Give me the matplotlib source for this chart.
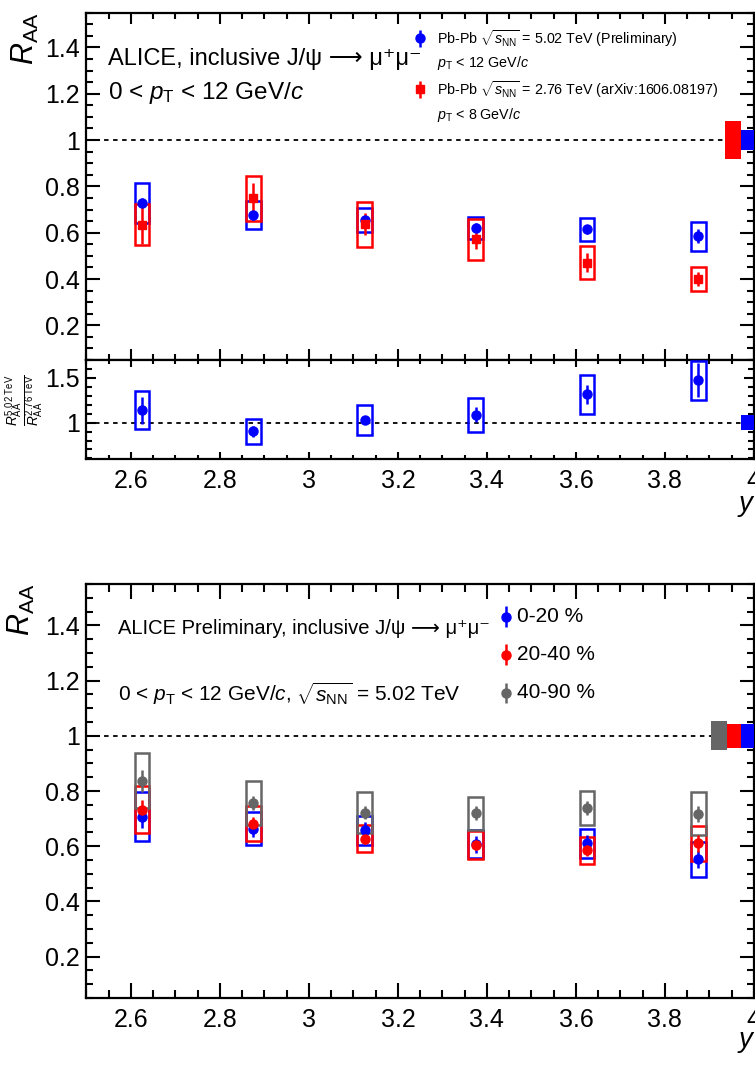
import matplotlib
matplotlib.use('Agg')
import matplotlib.pyplot as plt
from matplotlib.ticker import MultipleLocator, FuncFormatter

plt.rcParams['font.family'] = ['Liberation Sans', 'DejaVu Sans']
plt.rcParams['mathtext.fontset'] = 'custom'
plt.rcParams['mathtext.rm'] = 'Liberation Sans'
plt.rcParams['mathtext.it'] = 'Liberation Sans:italic'
plt.rcParams['mathtext.bf'] = 'Liberation Sans:bold'

BLUE = '#0000ff'
RED = '#ff0000'
GRAY = '#666666'

# rapidity bin centres
y_bins = [2.625, 2.875, 3.125, 3.375, 3.625, 3.875]

# top panel, 0-90 %
raa_502 = [0.728, 0.675, 0.655, 0.621, 0.615, 0.585]
stat_502 = [0.02, 0.02, 0.02, 0.02, 0.02, 0.03]
sys_502 = [0.085, 0.06, 0.053, 0.047, 0.05, 0.062]
raa_276 = [0.635, 0.748, 0.636, 0.571, 0.471, 0.400]
stat_276 = [0.085, 0.065, 0.047, 0.04, 0.04, 0.03]
sys_276 = [0.09, 0.099, 0.097, 0.09, 0.072, 0.053]
glob_502 = 0.043
glob_276 = 0.083

# ratio 5.02 / 2.76
ratio = [1.14, 0.904, 1.03, 1.089, 1.315, 1.474]
ratio_stat = [0.15, 0.06, 0.05, 0.085, 0.11, 0.19]
ratio_sys = [0.21, 0.14, 0.17, 0.19, 0.22, 0.22]
glob_ratio = 0.087

# bottom panel, centrality classes at 5.02 TeV
cent_labels = ['0-20 %', '20-40 %', '40-90 %']
raa_c = [
    [0.707, 0.664, 0.658, 0.607, 0.610, 0.552],
    [0.733, 0.682, 0.628, 0.605, 0.585, 0.610],
    [0.838, 0.757, 0.722, 0.720, 0.738, 0.717],
]
stat_c = [
    [0.04, 0.03, 0.03, 0.03, 0.03, 0.03],
    [0.035, 0.025, 0.02, 0.02, 0.02, 0.03],
    [0.04, 0.025, 0.025, 0.025, 0.025, 0.03],
]
sys_c = [
    [0.089, 0.06, 0.053, 0.05, 0.052, 0.063],
    [0.086, 0.062, 0.05, 0.05, 0.048, 0.065],
    [0.10, 0.08, 0.073, 0.06, 0.062, 0.078],
]
glob_c = [0.044, 0.044, 0.052]
cent_colors = [BLUE, RED, GRAY]
glob_x = [3.985, 3.955, 3.922]

BOXW = 0.033


def style(ax, maj_y, min_y, lmaj=10, lmin=5, xl=8, xlm=4.5):
    ax.xaxis.set_major_locator(MultipleLocator(0.2))
    ax.xaxis.set_minor_locator(MultipleLocator(0.05))
    ax.yaxis.set_major_locator(MultipleLocator(maj_y))
    ax.yaxis.set_minor_locator(MultipleLocator(min_y))
    fmt = FuncFormatter(lambda v, p: '%g' % round(v, 3))
    ax.xaxis.set_major_formatter(fmt)
    ax.yaxis.set_major_formatter(fmt)
    ax.tick_params(axis='both', which='both', direction='in', top=True, right=True,
                   width=1.5, labelsize=18)
    ax.tick_params(axis='y', which='major', length=lmaj, pad=5)
    ax.tick_params(axis='y', which='minor', length=lmin)
    ax.tick_params(axis='x', which='major', length=xl, pad=7)
    ax.tick_params(axis='x', which='minor', length=xlm)
    for s in ax.spines.values():
        s.set_linewidth(1.6)
    ax.set_xlim(2.5, 4.0)


def draw_set(ax, vals, stat, syst, color, marker, ms=6.5):
    lo = [v - s for v, s in zip(vals, syst)]
    hi = [2 * s for s in syst]
    ax.bar(y_bins, hi, bottom=lo, width=BOXW, fill=False, edgecolor=color,
           linewidth=1.8, zorder=3)
    ax.errorbar(y_bins, vals, yerr=stat, fmt=marker, color=color, ms=ms,
                elinewidth=1.8, capsize=0, zorder=4)


fig = plt.figure(figsize=(7.55, 10.78), dpi=100)
ax1 = fig.add_axes([0.1145, 0.666, 0.884, 0.3222])
ax2 = fig.add_axes([0.1145, 0.5739, 0.884, 0.0921], sharex=ax1)
ax3 = fig.add_axes([0.1145, 0.0742, 0.884, 0.384])

# ---- top panel
style(ax1, 0.2, 0.05)
ax1.set_ylim(0.05, 1.55)
ax1.tick_params(axis='x', labelbottom=False)
ax1.axhline(1, color='black', linestyle=(0, (2.5, 2.5)), linewidth=1.3, zorder=1)
draw_set(ax1, raa_502, stat_502, sys_502, BLUE, 'o')
draw_set(ax1, raa_276, stat_276, sys_276, RED, 's', ms=6)
ax1.bar([3.953, 3.985], [2 * glob_276, 2 * glob_502], bottom=[1 - glob_276, 1 - glob_502],
        width=[0.035, 0.03], color=[RED, BLUE], zorder=5, clip_on=False)
ax1.text(-0.092, 1.0, r'$R_{\rm AA}$', transform=ax1.transAxes, rotation=90,
         ha='center', va='top', fontsize=22)
ax1.text(0.032, 0.866, 'ALICE, inclusive J/ψ ⟶ μ⁺μ⁻', transform=ax1.transAxes,
         fontsize=17, va='center')
ax1.text(0.032, 0.768, r'0 < $p_{\rm T}$ < 12 GeV/$c$', transform=ax1.transAxes,
         fontsize=17.5, va='center')
ax1.errorbar([0.5], [0.926], yerr=[0.025], fmt='o', color=BLUE, ms=6.5, elinewidth=1.8,
             transform=ax1.transAxes, clip_on=False)
ax1.errorbar([0.5], [0.779], yerr=[0.025], fmt='s', color=RED, ms=6, elinewidth=1.8,
             transform=ax1.transAxes, clip_on=False)
ax1.text(0.525, 0.926, r'Pb-Pb $\sqrt{s_{\rm NN}}$ = 5.02 TeV (Preliminary)',
         transform=ax1.transAxes, fontsize=10.3, va='center')
ax1.text(0.525, 0.856, r'$p_{\rm T}$ < 12 GeV/$c$', transform=ax1.transAxes,
         fontsize=10.3, va='center')
ax1.text(0.525, 0.779, r'Pb-Pb $\sqrt{s_{\rm NN}}$ = 2.76 TeV (arXiv:1606.08197)',
         transform=ax1.transAxes, fontsize=10.3, va='center')
ax1.text(0.525, 0.705, r'$p_{\rm T}$ < 8 GeV/$c$', transform=ax1.transAxes,
         fontsize=10.3, va='center')

# ---- ratio panel
style(ax2, 0.5, 0.1, lmaj=7, lmin=4, xl=5, xlm=3)
ax2.set_ylim(0.59, 1.7)
ax2.axhline(1, color='black', linestyle=(0, (2.5, 2.5)), linewidth=1.3, zorder=1)
draw_set(ax2, ratio, ratio_stat, ratio_sys, BLUE, 'o')
ax2.bar([3.985], [2 * glob_ratio], bottom=[1 - glob_ratio], width=0.03, color=BLUE,
        zorder=5, clip_on=False)
ax2.text(-0.092, 0.6,
         r'$\frac{R_{\rm AA}^{5.02\ \rm TeV}}{R_{\rm AA}^{2.76\ \rm TeV}}$',
         transform=ax2.transAxes, rotation=90, ha='center', va='center', fontsize=14)
ax2.text(0.975, -0.47, r'$y$', transform=ax2.transAxes, ha='left', va='center',
         fontsize=20)

# ---- bottom panel
style(ax3, 0.2, 0.05, xl=11, xlm=6)
ax3.set_ylim(0.05, 1.55)
ax3.axhline(1, color='black', linestyle=(0, (2.5, 2.5)), linewidth=1.3, zorder=1)
for vals, st, sy, c in zip(raa_c, stat_c, sys_c, cent_colors):
    draw_set(ax3, vals, st, sy, c, 'o')
ax3.bar(glob_x, [2 * g for g in glob_c], bottom=[1 - g for g in glob_c],
        width=[0.03, 0.03, 0.035], color=cent_colors, zorder=5, clip_on=False)
ax3.text(-0.097, 1.002, r'$R_{\rm AA}$', transform=ax3.transAxes, rotation=90,
         ha='center', va='top', fontsize=22)
ax3.text(0.047, 0.893, 'ALICE Preliminary, inclusive J/ψ ⟶ μ⁺μ⁻',
         transform=ax3.transAxes, fontsize=14.5, va='center')
ax3.text(0.047, 0.736, r'0 < $p_{\rm T}$ < 12 GeV/$c$, $\sqrt{s_{\rm NN}}$ = 5.02 TeV',
         transform=ax3.transAxes, fontsize=15, va='center')
for lab, c, yy in zip(cent_labels, cent_colors, [0.921, 0.829, 0.737]):
    ax3.errorbar([0.629], [yy], yerr=[0.025], fmt='o', color=c, ms=6.5, elinewidth=1.8,
                 transform=ax3.transAxes, clip_on=False)
    ax3.text(0.645, yy, lab, transform=ax3.transAxes, fontsize=15, va='center')
ax3.text(0.975, -0.106, r'$y$', transform=ax3.transAxes, ha='left', va='center',
         fontsize=20)

fig.savefig('out.png', dpi=100)
